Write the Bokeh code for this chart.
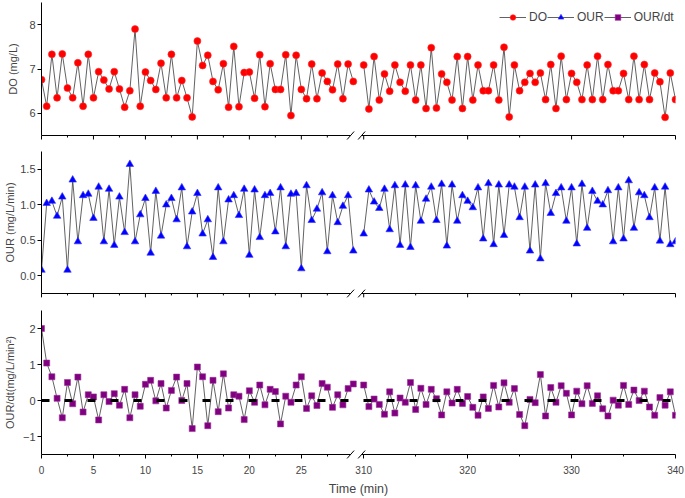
from bokeh.plotting import figure
from bokeh.layouts import column
from bokeh.models import (FixedTicker, Span, Legend, LegendItem, Range1d,
                          NumeralTickFormatter, ColumnDataSource)
from bokeh.embed import file_html
from bokeh.resources import INLINE

# ---------------- data ----------------
time_seg1 = [0.5 * i for i in range(61)]          # 0 ... 30 min
time_seg2 = [310 + 0.5 * i for i in range(61)]    # 310 ... 340 min

do_seg1 = [6.76, 6.16, 7.33, 6.35, 7.34, 6.57, 6.35, 7.14, 6.16, 7.33,
           6.35, 6.94, 6.75, 6.55, 6.94, 6.55, 6.14, 6.51, 7.90, 6.16,
           6.93, 6.74, 6.54, 7.13, 6.35, 7.33, 6.35, 6.74, 6.35, 5.92,
           7.63, 7.08, 7.31, 6.72, 6.53, 7.12, 6.14, 7.51, 6.15, 6.92,
           6.93, 6.34, 7.32, 6.15, 7.12, 6.54, 6.54, 7.32, 5.95, 7.31,
           6.54, 6.33, 7.11, 6.33, 6.91, 6.72, 6.53, 7.11, 6.33, 7.11,
           6.72]
do_seg2 = [7.09, 6.10, 7.28, 6.30, 6.89, 6.50, 7.09, 6.70, 6.50, 7.09,
           6.30, 7.09, 6.11, 7.48, 6.12, 6.89, 6.70, 6.30, 7.28, 6.11,
           7.28, 6.30, 7.09, 6.51, 6.51, 7.09, 6.30, 7.49, 5.92, 7.09,
           6.51, 6.70, 6.90, 6.70, 6.91, 6.31, 7.10, 6.11, 7.29, 6.31,
           6.90, 6.70, 6.31, 7.09, 6.31, 7.29, 6.31, 7.10, 6.51, 6.51,
           6.90, 6.31, 7.29, 6.31, 7.10, 6.31, 6.91, 6.71, 5.91, 6.91,
           6.31]
our_seg1 = [0.08, 1.02, 1.05, 0.84, 1.11, 0.08, 1.35, 0.48, 1.13, 1.15,
            0.81, 1.25, 0.48, 1.22, 0.43, 1.11, 0.61, 1.57, 0.48, 0.86,
            1.09, 0.32, 1.19, 0.56, 1.00, 1.09, 0.79, 1.24, 0.41, 0.90,
            1.16, 0.59, 0.79, 0.26, 1.24, 0.48, 1.07, 1.13, 0.85, 1.22,
            0.29, 1.21, 0.54, 1.13, 1.16, 0.62, 1.24, 0.41, 1.15, 1.16,
            0.10, 1.27, 0.78, 0.94, 1.17, 0.34, 1.13, 0.75, 0.98, 1.13,
            0.35]
our_seg2 = [0.59, 1.21, 1.04, 0.95, 1.22, 0.65, 1.27, 0.43, 1.28, 0.40,
            1.27, 0.77, 1.08, 1.25, 0.78, 1.29, 0.42, 1.28, 0.77, 1.13,
            1.05, 0.96, 1.24, 0.52, 1.30, 0.44, 1.28, 0.57, 1.28, 1.25,
            0.82, 1.25, 0.35, 1.28, 0.24, 1.30, 0.88, 1.16, 1.24, 0.77,
            1.24, 0.45, 1.29, 0.67, 1.19, 1.05, 1.00, 1.20, 0.48, 1.24,
            0.52, 1.34, 0.67, 1.17, 1.13, 0.82, 1.24, 0.49, 1.25, 0.44,
            0.48]
ourdt_seg1 = [2.00, 1.04, 0.66, 0.06, -0.48, 0.50, -0.09, 0.65, -0.32, 0.16,
              0.10, -0.54, 0.16, -0.03, 0.19, -0.13, 0.31, -0.48, 0.16, -0.16,
              0.45, 0.56, -0.01, 0.47, -0.21, 0.28, 0.65, 0.00, 0.47, -0.78,
              0.93, 0.66, -0.70, 0.56, -0.31, 0.74, -0.21, 0.16, 0.12, -0.53,
              0.27, -0.05, 0.43, -0.12, 0.31, 0.25, -0.65, 0.12, -0.05, 0.43,
              0.66, -0.22, 0.13, -0.14, 0.47, 0.37, -0.19, 0.16, -0.12, 0.33,
              0.46]
ourdt_seg2 = [0.43, -0.17, 0.04, -0.11, -0.38, 0.24, -0.35, 0.07, -0.05, 0.50,
              -0.25, 0.34, -0.11, 0.31, 0.05, -0.40, 0.24, -0.07, 0.31, -0.08,
              0.11, -0.19, -0.41, 0.10, -0.22, 0.42, -0.18, 0.49, -0.05, 0.33,
              -0.39, -0.70, 0.03, -0.06, 0.72, -0.43, 0.36, -0.05, 0.41, 0.20,
              -0.40, 0.26, -0.09, 0.41, -0.08, 0.13, -0.23, -0.43, 0.01, -0.13,
              0.42, -0.11, 0.29, 0.00, 0.26, -0.18, -0.41, 0.08, -0.13, 0.24,
              -0.41]

x_tick_values = [0, 5, 10, 15, 20, 25, 310, 320, 330, 340]
x_minor_values = [2.5, 7.5, 12.5, 17.5, 22.5, 27.5, 315, 325, 335]
do_ticks = [6, 7, 8]
our_ticks = [0.0, 0.5, 1.0, 1.5]
ourdt_ticks = [-1, 0, 1, 2]

# ---------------- broken axis transform ----------------
BREAK_LO, BREAK_HI, GAP = 30.0, 310.0, 1.0
X_END = 340


def bx(t):
    return t if t <= BREAK_LO else t - BREAK_HI + BREAK_LO + GAP


X_MAX = bx(X_END)
AXIS_SEG1_END = BREAK_LO - 0.26
AXIS_SEG2_START = BREAK_LO + GAP - 0.2

FONT = "Liberation Sans"
W = 685
BL, BR = 41, 10
FRAME_W = W - BL - BR
NAN = float("nan")


def series_source(seg1, seg2):
    xs = [bx(t) for t in time_seg1] + [NAN] + [bx(t) for t in time_seg2]
    ys = list(seg1) + [NAN] + list(seg2)
    return ColumnDataSource(dict(x=xs, y=ys))


def make_panel(height, top, bottom, frame_h, yr, yticks, ylabel, ylabel_standoff, show_x):
    p = figure(width=W, height=height, x_range=Range1d(0, X_MAX),
               y_range=Range1d(*yr), output_backend="svg", toolbar_location=None,
               min_border_left=BL, min_border_right=BR,
               min_border_top=top, min_border_bottom=bottom)
    p.outline_line_color = None
    p.grid.visible = False
    p.background_fill_color = "white"

    yb = yr[0]
    px_x = X_MAX / FRAME_W
    px_y = (yr[1] - yr[0]) / frame_h
    major_x = [int(round(bx(t))) for t in x_tick_values]
    minor_x = [bx(t) for t in x_minor_values]

    xa = p.xaxis[0]
    if show_x:
        xa.ticker = FixedTicker(ticks=major_x, minor_ticks=minor_x)
        xa.major_label_overrides = {int(round(bx(t))): str(t) for t in x_tick_values}
        xa.axis_line_color = None
        xa.major_tick_out = 4
        xa.major_tick_in = 0
        xa.minor_tick_out = 2
        xa.minor_tick_in = 0
        xa.major_tick_line_color = "black"
        xa.minor_tick_line_color = "black"
        xa.major_label_text_font = FONT
        xa.major_label_text_font_size = "10px"
        xa.major_label_standoff = 7
        xa.axis_label = "Time (min)"
        xa.axis_label_text_font = FONT
        xa.axis_label_text_font_size = "12.5px"
        xa.axis_label_text_font_style = "normal"
        xa.axis_label_standoff = 5
    else:
        xa.visible = False
        # tick marks of the (unlabelled) shared time axis
        p.segment(x0=major_x, y0=[yb] * len(major_x), x1=major_x,
                  y1=[yb - 4 * px_y] * len(major_x),
                  line_color="black", line_width=1, level="overlay")
        p.segment(x0=minor_x, y0=[yb] * len(minor_x), x1=minor_x,
                  y1=[yb - 2 * px_y] * len(minor_x),
                  line_color="black", line_width=1, level="overlay")

    ya = p.yaxis[0]
    ya.ticker = FixedTicker(ticks=yticks)
    ya.minor_tick_line_color = None
    ya.major_tick_out = 4
    ya.major_tick_in = 0
    ya.axis_line_color = "black"
    ya.major_tick_line_color = "black"
    ya.major_label_text_font = FONT
    ya.major_label_text_font_size = "11px"
    ya.major_label_standoff = 2
    ya.axis_label = ylabel
    ya.axis_label_text_font = FONT
    ya.axis_label_text_font_size = "11px"
    ya.axis_label_text_font_style = "normal"
    ya.axis_label_standoff = ylabel_standoff

    # broken x-axis line with // marks (drawn unclipped, over the axis)
    p.segment(x0=[0, AXIS_SEG2_START], y0=[yb, yb],
              x1=[AXIS_SEG1_END, X_MAX], y1=[yb, yb],
              line_color="black", line_width=1, level="overlay")
    cx = [AXIS_SEG1_END, AXIS_SEG2_START]
    p.segment(x0=[c - 3.5 * px_x for c in cx], y0=[yb - 4 * px_y] * 2,
              x1=[c + 3.5 * px_x for c in cx], y1=[yb + 4 * px_y] * 2,
              line_color="black", line_width=1, level="overlay")
    return p


LINE_COLOR = "#3a3a3a"
DO_STYLE = dict(marker="circle", size=7, fill_color="#ff0000", line_color="#ff2a2a", line_width=0.6)
OUR_STYLE = dict(marker="triangle", size=7.5, fill_color="#0000ff", line_color="#3030ff", line_width=0.6)
DT_STYLE = dict(marker="square", size=6, fill_color="#800080", line_color="#9a309a", line_width=0.6)

# ---- panel 1: DO ----
p1 = make_panel(140, 2, 5, 133, (5.5, 8.5), do_ticks, "DO (mg/L)", 7, False)
src_do = series_source(do_seg1, do_seg2)
l_do = p1.line("x", "y", source=src_do, line_color=LINE_COLOR, line_width=0.8)
s_do = p1.scatter("x", "y", source=src_do, **DO_STYLE)
# legend proxies for the series drawn in the other panels
proxy = ColumnDataSource(dict(x=[NAN], y=[NAN]))
l_our_p = p1.line("x", "y", source=proxy, line_color=LINE_COLOR, line_width=0.8)
s_our_p = p1.scatter("x", "y", source=proxy, **OUR_STYLE)
l_dt_p = p1.line("x", "y", source=proxy, line_color=LINE_COLOR, line_width=0.8)
s_dt_p = p1.scatter("x", "y", source=proxy, **DT_STYLE)
legend = Legend(items=[LegendItem(label="DO", renderers=[l_do, s_do]),
                       LegendItem(label="OUR", renderers=[l_our_p, s_our_p]),
                       LegendItem(label="OUR/dt", renderers=[l_dt_p, s_dt_p])],
                orientation="horizontal", location=(458, 111),
                border_line_color=None, background_fill_alpha=0,
                label_text_font=FONT, label_text_font_size="12px",
                glyph_width=27, glyph_height=14, label_height=14, label_width=0,
                label_standoff=3, spacing=0, padding=0, margin=0)
p1.add_layout(legend)

# ---- panel 2: OUR ----
p2 = make_panel(161, 11, 8, 147, (-0.25, 1.75), our_ticks, "OUR (mg/L/min)", 1, False)
p2.yaxis[0].formatter = NumeralTickFormatter(format="0.0")
src_our = series_source(our_seg1, our_seg2)
p2.line("x", "y", source=src_our, line_color=LINE_COLOR, line_width=0.8)
p2.scatter("x", "y", source=src_our, **OUR_STYLE)

# ---- panel 3: OUR/dt ----
p3 = make_panel(197, 9, 42, 146, (-1.5, 2.5), ourdt_ticks, "OUR/dt(mg/L/min²)", 4, True)
p3.add_layout(Span(location=0, dimension="width", line_color="black",
                   line_width=3, line_dash="8 15"))
src_dt = series_source(ourdt_seg1, ourdt_seg2)
p3.line("x", "y", source=src_dt, line_color=LINE_COLOR, line_width=0.8)
p3.scatter("x", "y", source=src_dt, **DT_STYLE)

layout = column(p1, p2, p3, spacing=0)
open("out.html", "w").write(file_html(layout, INLINE))
